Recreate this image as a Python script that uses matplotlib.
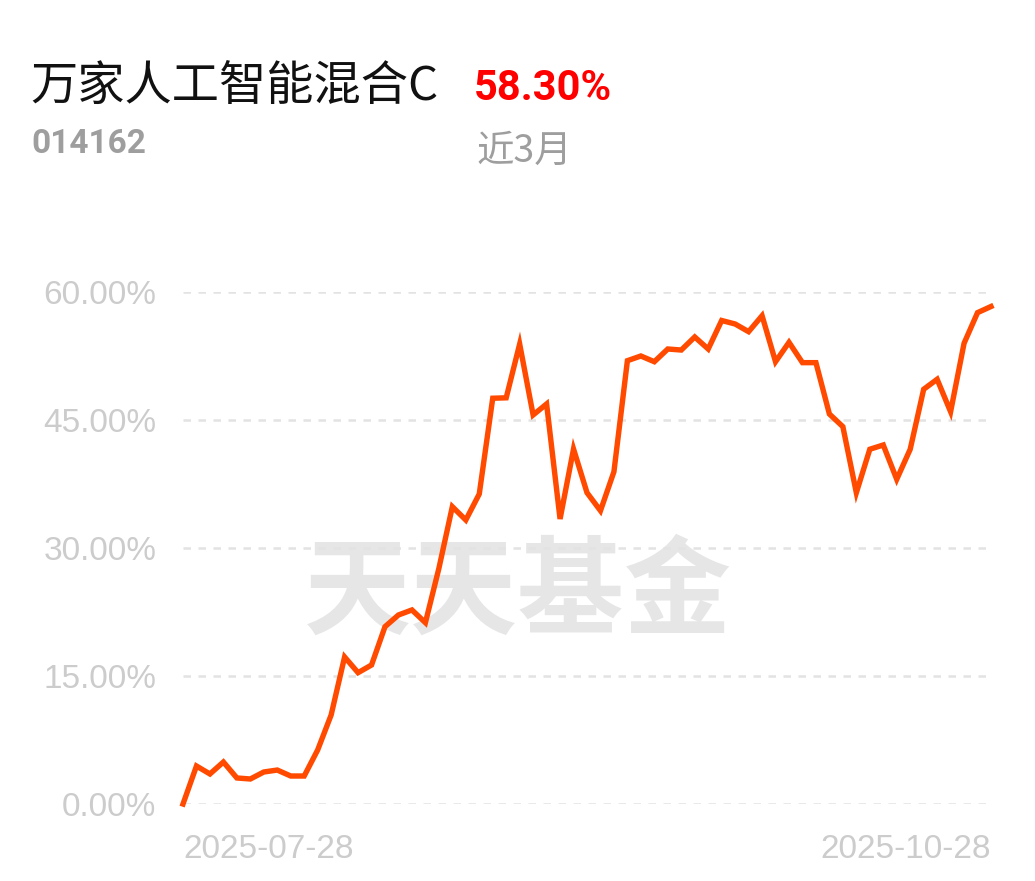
import matplotlib.pyplot as plt

plt.rcParams['font.family'] = ['Noto Sans CJK SC', 'DejaVu Sans']

fund_name = "万家人工智能混合C"
fund_code = "014162"
period_label = "近3月"
period_return = "58.30%"
start_date = "2025-07-28"
end_date = "2025-10-28"

# cumulative return (%) per trading day
returns = [0.0, 4.45, 3.52, 4.92, 3.05, 2.93, 3.75, 3.98, 3.28, 3.28,
           6.33, 10.43, 17.23, 15.39, 16.29, 20.78, 22.15, 22.74, 21.25, 27.6,
           34.84, 33.28, 36.33, 47.55, 47.6, 53.9, 45.59, 46.88, 33.4, 41.6,
           36.48, 34.37, 38.94, 51.95, 52.5, 51.83, 53.32, 53.2, 54.73, 53.32,
           56.66, 56.25, 55.35, 57.22, 51.83, 54.1, 51.72, 51.72, 45.7, 44.22,
           36.48, 41.57, 42.07, 38.05, 41.57, 48.6, 49.77, 45.97, 53.99, 57.58,
           58.30]
yticks = [0, 15, 30, 45, 60]
ytick_labels = ["0.00%", "15.00%", "30.00%", "45.00%", "60.00%"]

fig = plt.figure(figsize=(10.35, 8.81), dpi=100)
ax = fig.add_axes([183 / 1035, 77 / 881, 808 / 1035, 512 / 881])

# watermark
ax.text(0.415, 0.41, "天天基金", transform=ax.transAxes, fontsize=77,
        fontweight='bold', color='#e6e6e6', ha='center', va='center', zorder=0)

ax.plot(range(len(returns)), returns, color='#ff4a00', linewidth=3.9,
        solid_joinstyle='miter', clip_on=False, zorder=3)

ax.set_xlim(0, len(returns) - 1)
ax.set_ylim(0, 60)
ax.set_yticks(yticks)
ax.set_yticklabels(ytick_labels, family='Liberation Sans', fontsize=24, color='#cccccc')
ax.tick_params(axis='y', length=0, pad=19)
ax.set_xticks([])
for s in ax.spines.values():
    s.set_visible(False)
ax.grid(axis='y', color='#e3e3e3', linestyle=(0, (3, 3)), linewidth=1.8)

ax.text(0, -0.088, start_date, transform=ax.transAxes, ha='left', va='center',
        family='Liberation Sans', fontsize=24, color='#cccccc')
ax.text(1, -0.088, end_date, transform=ax.transAxes, ha='right', va='center',
        family='Liberation Sans', fontsize=24, color='#cccccc')

# header
fig.text(30 / 1035, 1 - 88 / 881, fund_name, fontsize=34, color='#111111', va='center')
fig.text(474 / 1035, 1 - 88 / 881, period_return, family='Roboto', fontweight='bold',
         fontsize=30, color='#ff0000', va='center')
fig.text(31 / 1035, 1 - 144 / 881, fund_code, family='Roboto', fontweight='bold',
         fontsize=24, color='#9e9e9e', va='center')
fig.text(476 / 1035, 1 - 151 / 881, period_label, fontsize=27, color='#9e9e9e', va='center')

plt.savefig("out.png", dpi=100)
